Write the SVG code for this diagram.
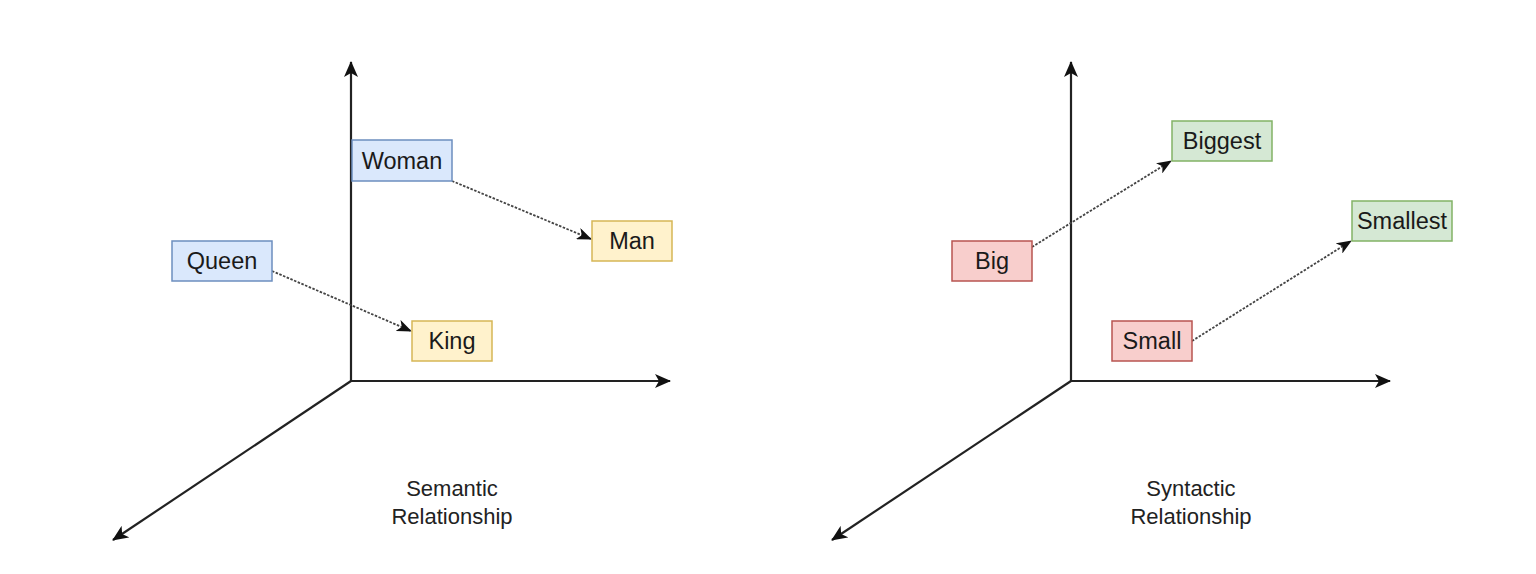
<svg xmlns="http://www.w3.org/2000/svg" width="1536" height="574" viewBox="0 0 1536 574">
<defs>
<marker id="axisHead" markerUnits="userSpaceOnUse" markerWidth="16" markerHeight="14" refX="15" refY="7" orient="auto" viewBox="0 0 16 14">
<path d="M0,0 L16,7 L0,14 L4,7 z" fill="#111"/>
</marker>
<marker id="linkHead" markerUnits="userSpaceOnUse" markerWidth="15" markerHeight="12" refX="14" refY="6" orient="auto" viewBox="0 0 15 12">
<path d="M0,0 L15,6 L0,12 L4,6 z" fill="#111"/>
</marker>
</defs>
<style>
.axis{stroke:#222;stroke-width:2.2;fill:none;marker-end:url(#axisHead)}
.link{stroke:#444;stroke-width:1.8;stroke-dasharray:2.5 1.5;fill:none;marker-end:url(#linkHead)}
.blue{fill:#dae8fc;stroke:#6c8ebf;stroke-width:1.5}
.yellow{fill:#fff2cc;stroke:#d6b656;stroke-width:1.5}
.red{fill:#f8cecc;stroke:#b85450;stroke-width:1.5}
.green{fill:#d5e8d4;stroke:#82b366;stroke-width:1.5}
text{font-family:"Liberation Sans",Arial,Helvetica,sans-serif;fill:#1a1a1a;text-anchor:middle}
.node{font-size:23.5px}
.lbl{font-size:22px;fill:#222}
</style>
<rect width="1536" height="574" fill="#ffffff"/>
<g id="connectors">
<line class="axis" x1="351" y1="381" x2="351" y2="62"/>
<line class="axis" x1="351" y1="381" x2="670" y2="381"/>
<line class="axis" x1="351" y1="381" x2="113" y2="540"/>
<line class="axis" x1="1071" y1="381" x2="1071" y2="62"/>
<line class="axis" x1="1071" y1="381" x2="1390" y2="381"/>
<line class="axis" x1="1071" y1="381" x2="832" y2="540"/>
<line class="link" x1="452" y1="181" x2="591" y2="239"/>
<line class="link" x1="272" y1="271" x2="411" y2="331"/>
<line class="link" x1="1032" y1="247" x2="1171" y2="161"/>
<line class="link" x1="1192" y1="341" x2="1351" y2="241"/>
</g>
<g id="woman"><rect class="blue" x="352" y="140" width="100" height="41"/><text class="node" x="402" y="169">Woman</text></g>
<g id="man"><rect class="yellow" x="592" y="221" width="80" height="40"/><text class="node" x="632" y="249">Man</text></g>
<g id="queen"><rect class="blue" x="172" y="241" width="100" height="40"/><text class="node" x="222" y="269">Queen</text></g>
<g id="king"><rect class="yellow" x="412" y="321" width="80" height="40"/><text class="node" x="452" y="349">King</text></g>
<g id="biggest"><rect class="green" x="1172" y="121" width="100" height="40"/><text class="node" x="1222" y="149">Biggest</text></g>
<g id="smallest"><rect class="green" x="1352" y="201" width="100" height="40"/><text class="node" x="1402" y="229">Smallest</text></g>
<g id="big"><rect class="red" x="952" y="241" width="80" height="40"/><text class="node" x="992" y="269">Big</text></g>
<g id="small"><rect class="red" x="1112" y="321" width="80" height="40"/><text class="node" x="1152" y="349">Small</text></g>
<g id="semantic-label"><text class="lbl" x="452" y="496">Semantic</text><text class="lbl" x="452" y="524">Relationship</text></g>
<g id="syntactic-label"><text class="lbl" x="1191" y="496">Syntactic</text><text class="lbl" x="1191" y="524">Relationship</text></g>
</svg>
